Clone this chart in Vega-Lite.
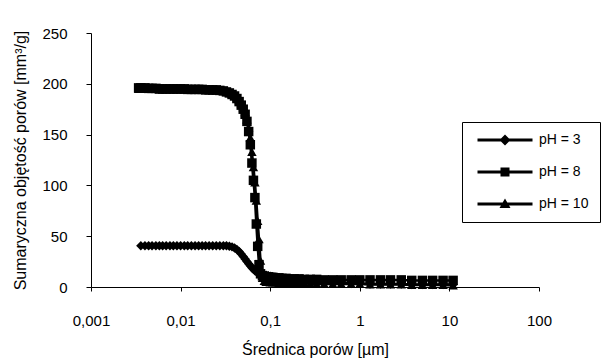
{
  "$schema": "https://vega.github.io/schema/vega-lite/v6.json",
  "width": 448,
  "height": 254,
  "autosize": {"type": "none"},
  "padding": {"left": 91, "top": 33, "right": 65, "bottom": 71},
  "background": "white",
  "config": {
    "view": {"stroke": null},
    "font": "Liberation Sans",
    "axis": {"grid": false, "domainColor": "#000", "tickColor": "#000", "labelColor": "#000", "titleColor": "#000", "labelFontSize": 15, "titleFontSize": 16, "titleFontWeight": "normal", "labelFont": "Liberation Sans", "titleFont": "Liberation Sans"},
    "legend": {"labelFont": "Liberation Sans", "labelFontSize": 14, "labelColor": "#000"}
  },
  "data": {"values": [
    {"d":0.0034,"v":196,"s":"pH = 8"},{"d":0.0036,"v":196,"s":"pH = 8"},{"d":0.004,"v":196,"s":"pH = 8"},{"d":0.0044,"v":195.5,"s":"pH = 8"},{"d":0.0048,"v":195.5,"s":"pH = 8"},{"d":0.0053,"v":195.5,"s":"pH = 8"},{"d":0.0058,"v":195,"s":"pH = 8"},{"d":0.0063,"v":195,"s":"pH = 8"},{"d":0.0069,"v":195,"s":"pH = 8"},{"d":0.0076,"v":195,"s":"pH = 8"},
    {"d":0.0083,"v":195,"s":"pH = 8"},{"d":0.0091,"v":195,"s":"pH = 8"},{"d":0.01,"v":195,"s":"pH = 8"},{"d":0.011,"v":195,"s":"pH = 8"},{"d":0.012,"v":194.5,"s":"pH = 8"},{"d":0.0132,"v":194.5,"s":"pH = 8"},{"d":0.0145,"v":194.5,"s":"pH = 8"},{"d":0.0159,"v":194.5,"s":"pH = 8"},{"d":0.0174,"v":194.5,"s":"pH = 8"},{"d":0.019,"v":194,"s":"pH = 8"},
    {"d":0.0208,"v":194,"s":"pH = 8"},{"d":0.0228,"v":194,"s":"pH = 8"},{"d":0.025,"v":194,"s":"pH = 8"},{"d":0.0274,"v":193.5,"s":"pH = 8"},{"d":0.03,"v":193,"s":"pH = 8"},
    {"d":0.0325,"v":192,"s":"pH = 8"},{"d":0.035,"v":191,"s":"pH = 8"},{"d":0.0375,"v":189.5,"s":"pH = 8"},{"d":0.04,"v":188,"s":"pH = 8"},{"d":0.0425,"v":185.5,"s":"pH = 8"},{"d":0.045,"v":182.5,"s":"pH = 8"},{"d":0.0475,"v":179,"s":"pH = 8"},{"d":0.05,"v":175,"s":"pH = 8"},{"d":0.0525,"v":170,"s":"pH = 8"},
    {"d":0.055,"v":163,"s":"pH = 8"},{"d":0.0575,"v":153,"s":"pH = 8"},{"d":0.06,"v":140,"s":"pH = 8"},{"d":0.0625,"v":122,"s":"pH = 8"},{"d":0.065,"v":105,"s":"pH = 8"},{"d":0.0675,"v":88,"s":"pH = 8"},{"d":0.07,"v":62,"s":"pH = 8"},{"d":0.0725,"v":40,"s":"pH = 8"},{"d":0.075,"v":22,"s":"pH = 8"},{"d":0.078,"v":13,"s":"pH = 8"},{"d":0.082,"v":11,"s":"pH = 8"},
    {"d":0.086,"v":10.5,"s":"pH = 8"},{"d":0.09,"v":10,"s":"pH = 8"},{"d":0.095,"v":10,"s":"pH = 8"},{"d":0.1,"v":9.5,"s":"pH = 8"},
    {"d":0.107,"v":9.5,"s":"pH = 8"},{"d":0.115,"v":9,"s":"pH = 8"},{"d":0.125,"v":9,"s":"pH = 8"},{"d":0.135,"v":8.5,"s":"pH = 8"},{"d":0.15,"v":8.5,"s":"pH = 8"},{"d":0.165,"v":8,"s":"pH = 8"},{"d":0.185,"v":8,"s":"pH = 8"},{"d":0.21,"v":8,"s":"pH = 8"},{"d":0.24,"v":7.5,"s":"pH = 8"},{"d":0.28,"v":7.5,"s":"pH = 8"},{"d":0.33,"v":7.5,"s":"pH = 8"},{"d":0.4,"v":7,"s":"pH = 8"},{"d":0.5,"v":7,"s":"pH = 8"},{"d":0.62,"v":7,"s":"pH = 8"},{"d":0.8,"v":7,"s":"pH = 8"},
    {"d":1,"v":7,"s":"pH = 8"},{"d":1.3,"v":7,"s":"pH = 8"},{"d":1.7,"v":7,"s":"pH = 8"},{"d":2.2,"v":7,"s":"pH = 8"},{"d":2.9,"v":7,"s":"pH = 8"},{"d":3.8,"v":6.5,"s":"pH = 8"},{"d":5,"v":6.5,"s":"pH = 8"},{"d":6.5,"v":6.5,"s":"pH = 8"},{"d":8.5,"v":6.5,"s":"pH = 8"},{"d":11,"v":6.5,"s":"pH = 8"},

    {"d":0.0034,"v":195,"s":"pH = 10"},{"d":0.0036,"v":195,"s":"pH = 10"},{"d":0.004,"v":195,"s":"pH = 10"},{"d":0.0044,"v":195,"s":"pH = 10"},{"d":0.0048,"v":195,"s":"pH = 10"},{"d":0.0053,"v":195,"s":"pH = 10"},{"d":0.0058,"v":194.5,"s":"pH = 10"},{"d":0.0063,"v":194.5,"s":"pH = 10"},{"d":0.0069,"v":194.5,"s":"pH = 10"},{"d":0.0076,"v":194.5,"s":"pH = 10"},
    {"d":0.0083,"v":194.5,"s":"pH = 10"},{"d":0.0091,"v":194.5,"s":"pH = 10"},{"d":0.01,"v":194.5,"s":"pH = 10"},{"d":0.011,"v":194.5,"s":"pH = 10"},{"d":0.012,"v":194,"s":"pH = 10"},{"d":0.0132,"v":194,"s":"pH = 10"},{"d":0.0145,"v":194,"s":"pH = 10"},{"d":0.0159,"v":194,"s":"pH = 10"},{"d":0.0174,"v":194,"s":"pH = 10"},{"d":0.019,"v":194,"s":"pH = 10"},
    {"d":0.0208,"v":194,"s":"pH = 10"},{"d":0.0228,"v":193.5,"s":"pH = 10"},{"d":0.025,"v":193.5,"s":"pH = 10"},{"d":0.0274,"v":193.5,"s":"pH = 10"},{"d":0.03,"v":193,"s":"pH = 10"},
    {"d":0.0325,"v":192.5,"s":"pH = 10"},{"d":0.035,"v":191.5,"s":"pH = 10"},{"d":0.0375,"v":190,"s":"pH = 10"},{"d":0.04,"v":188.5,"s":"pH = 10"},{"d":0.0425,"v":186.5,"s":"pH = 10"},{"d":0.045,"v":184,"s":"pH = 10"},{"d":0.0475,"v":181,"s":"pH = 10"},{"d":0.05,"v":177,"s":"pH = 10"},{"d":0.0525,"v":172,"s":"pH = 10"},
    {"d":0.055,"v":165,"s":"pH = 10"},{"d":0.0575,"v":157,"s":"pH = 10"},{"d":0.06,"v":147,"s":"pH = 10"},{"d":0.0625,"v":133,"s":"pH = 10"},{"d":0.065,"v":118,"s":"pH = 10"},{"d":0.0675,"v":103,"s":"pH = 10"},{"d":0.07,"v":85,"s":"pH = 10"},{"d":0.0725,"v":65,"s":"pH = 10"},{"d":0.075,"v":47,"s":"pH = 10"},{"d":0.078,"v":26,"s":"pH = 10"},{"d":0.082,"v":9,"s":"pH = 10"},
    {"d":0.086,"v":6,"s":"pH = 10"},{"d":0.09,"v":5,"s":"pH = 10"},{"d":0.095,"v":5,"s":"pH = 10"},{"d":0.1,"v":4.5,"s":"pH = 10"},
    {"d":0.107,"v":4.5,"s":"pH = 10"},{"d":0.115,"v":4.5,"s":"pH = 10"},{"d":0.125,"v":4,"s":"pH = 10"},{"d":0.135,"v":4,"s":"pH = 10"},{"d":0.15,"v":4,"s":"pH = 10"},{"d":0.165,"v":4,"s":"pH = 10"},{"d":0.185,"v":3.5,"s":"pH = 10"},{"d":0.21,"v":3.5,"s":"pH = 10"},{"d":0.24,"v":3.5,"s":"pH = 10"},{"d":0.28,"v":3.5,"s":"pH = 10"},{"d":0.33,"v":3,"s":"pH = 10"},{"d":0.4,"v":3,"s":"pH = 10"},{"d":0.5,"v":3,"s":"pH = 10"},{"d":0.62,"v":3,"s":"pH = 10"},{"d":0.8,"v":3,"s":"pH = 10"},
    {"d":1,"v":3,"s":"pH = 10"},{"d":1.3,"v":2.5,"s":"pH = 10"},{"d":1.7,"v":2.5,"s":"pH = 10"},{"d":2.2,"v":2.5,"s":"pH = 10"},{"d":2.9,"v":2.5,"s":"pH = 10"},{"d":3.8,"v":2,"s":"pH = 10"},{"d":5,"v":2,"s":"pH = 10"},{"d":6.5,"v":2,"s":"pH = 10"},{"d":8.5,"v":2,"s":"pH = 10"},{"d":11,"v":1.5,"s":"pH = 10"},

    {"d":0.0036,"v":40.5,"s":"pH = 3"},{"d":0.004,"v":40.5,"s":"pH = 3"},{"d":0.0044,"v":40.5,"s":"pH = 3"},{"d":0.0048,"v":40.5,"s":"pH = 3"},{"d":0.0053,"v":40.5,"s":"pH = 3"},{"d":0.0058,"v":40.5,"s":"pH = 3"},{"d":0.0063,"v":40.5,"s":"pH = 3"},{"d":0.0069,"v":40.5,"s":"pH = 3"},{"d":0.0076,"v":40.5,"s":"pH = 3"},
    {"d":0.0083,"v":40.5,"s":"pH = 3"},{"d":0.0091,"v":40.5,"s":"pH = 3"},{"d":0.01,"v":40.5,"s":"pH = 3"},{"d":0.011,"v":40.5,"s":"pH = 3"},{"d":0.012,"v":40.5,"s":"pH = 3"},{"d":0.0132,"v":40.5,"s":"pH = 3"},{"d":0.0145,"v":40.5,"s":"pH = 3"},{"d":0.0159,"v":40.5,"s":"pH = 3"},{"d":0.0174,"v":40.5,"s":"pH = 3"},{"d":0.019,"v":40.5,"s":"pH = 3"},
    {"d":0.0208,"v":40.5,"s":"pH = 3"},{"d":0.0228,"v":40.5,"s":"pH = 3"},{"d":0.025,"v":40.5,"s":"pH = 3"},{"d":0.0274,"v":40.5,"s":"pH = 3"},{"d":0.03,"v":40.5,"s":"pH = 3"},
    {"d":0.0325,"v":40.5,"s":"pH = 3"},{"d":0.035,"v":40,"s":"pH = 3"},{"d":0.0375,"v":39.5,"s":"pH = 3"},{"d":0.04,"v":38.5,"s":"pH = 3"},{"d":0.0425,"v":37,"s":"pH = 3"},{"d":0.045,"v":35,"s":"pH = 3"},{"d":0.0475,"v":32.5,"s":"pH = 3"},{"d":0.05,"v":30,"s":"pH = 3"},{"d":0.0525,"v":27.5,"s":"pH = 3"},
    {"d":0.055,"v":25,"s":"pH = 3"},{"d":0.0575,"v":23,"s":"pH = 3"},{"d":0.06,"v":21,"s":"pH = 3"},{"d":0.0625,"v":19,"s":"pH = 3"},{"d":0.065,"v":17.5,"s":"pH = 3"},{"d":0.0675,"v":16,"s":"pH = 3"},{"d":0.07,"v":15,"s":"pH = 3"},{"d":0.0725,"v":14,"s":"pH = 3"},{"d":0.075,"v":13.5,"s":"pH = 3"},{"d":0.078,"v":13,"s":"pH = 3"},{"d":0.082,"v":12.5,"s":"pH = 3"},
    {"d":0.086,"v":12,"s":"pH = 3"},{"d":0.09,"v":11.5,"s":"pH = 3"},{"d":0.095,"v":11,"s":"pH = 3"},{"d":0.1,"v":10.5,"s":"pH = 3"},
    {"d":0.107,"v":10,"s":"pH = 3"},{"d":0.115,"v":9.5,"s":"pH = 3"},{"d":0.125,"v":9,"s":"pH = 3"},{"d":0.135,"v":8.5,"s":"pH = 3"},{"d":0.15,"v":8,"s":"pH = 3"},{"d":0.165,"v":7.5,"s":"pH = 3"},{"d":0.185,"v":7,"s":"pH = 3"},{"d":0.21,"v":6.5,"s":"pH = 3"},{"d":0.24,"v":6,"s":"pH = 3"},{"d":0.28,"v":5.5,"s":"pH = 3"},{"d":0.33,"v":5,"s":"pH = 3"},{"d":0.4,"v":4.5,"s":"pH = 3"},{"d":0.5,"v":4,"s":"pH = 3"},{"d":0.62,"v":4,"s":"pH = 3"},{"d":0.8,"v":3.5,"s":"pH = 3"},
    {"d":1,"v":3.5,"s":"pH = 3"},{"d":1.3,"v":3,"s":"pH = 3"},{"d":1.7,"v":3,"s":"pH = 3"},{"d":2.2,"v":3,"s":"pH = 3"},{"d":2.9,"v":3,"s":"pH = 3"},{"d":3.8,"v":2.5,"s":"pH = 3"},{"d":5,"v":2.5,"s":"pH = 3"},{"d":6.5,"v":2.5,"s":"pH = 3"},{"d":8.5,"v":2.5,"s":"pH = 3"},{"d":11,"v":2.5,"s":"pH = 3"}
  ]},
  "encoding": {
    "x": {"field": "d", "type": "quantitative",
      "scale": {"type": "log", "domain": [0.001, 100], "nice": false},
      "axis": {"values": [0.001, 0.01, 0.1, 1, 10, 100], "format": "~g", "labelExpr": "replace(datum.label, '.', ',')", "tickSize": 4, "labelPadding": 22, "title": "Średnica porów [µm]", "titlePadding": 13, "labelFlush": false, "labelOverlap": false}},
    "y": {"field": "v", "type": "quantitative",
      "scale": {"domain": [0, 250], "nice": false},
      "axis": {"values": [0, 50, 100, 150, 200, 250], "tickSize": 5, "labelPadding": 19, "title": "Sumaryczna objętość porów [mm³/g]", "titlePadding": 13}}
  },
  "layer": [
    {"mark": {"type": "line", "color": "#000", "strokeWidth": 2.5},
     "encoding": {"detail": {"field": "s"}}},
    {"mark": {"type": "point", "filled": true, "color": "#000", "opacity": 1, "size": 90},
     "encoding": {
       "shape": {"field": "s", "type": "nominal",
         "scale": {"domain": ["pH = 3", "pH = 8", "pH = 10"], "range": ["diamond", "square", "triangle-up"]},
         "legend": null}}},
    {"transform": [{"filter": "false"}],
     "mark": {"type": "point", "filled": true, "color": "#000", "opacity": 1, "size": 100},
     "encoding": {
       "shape": {"field": "s", "type": "nominal",
         "scale": {"domain": ["pH = 3", "pH = 8", "pH = 10"], "range": [
           "M-5.5,-0.28H5.5V0.28H-5.5ZM0,-1.1L1.1,0L0,1.1L-1.1,0Z",
           "M-5.5,-0.28H5.5V0.28H-5.5ZM-0.9,-0.9H0.9V0.9H-0.9Z",
           "M-5.5,-0.28H5.5V0.28H-5.5ZM0,-1.1L1.1,0.8H-1.1Z"]},
         "legend": {"title": null, "orient": "none", "legendX": 371, "legendY": 89, "strokeColor": "#000", "padding": 11, "rowPadding": 15, "symbolSize": 100, "symbolOffset": 25, "labelOffset": 27, "symbolOpacity": 1, "symbolFillColor": "#000"}}}}
  ],
  "resolve": {"scale": {"shape": "independent"}, "legend": {"shape": "independent"}}
}
